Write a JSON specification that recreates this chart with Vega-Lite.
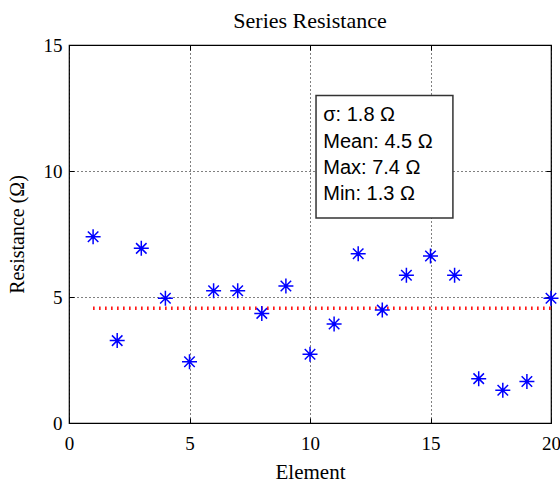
{
  "$schema": "https://vega.github.io/schema/vega-lite/v6.json",
  "autosize": {"type": "none"},
  "width": 482,
  "height": 378,
  "padding": {"left": 69, "top": 45, "right": 9, "bottom": 59},
  "background": "white",
  "title": {"text": "Series Resistance", "font": "Liberation Serif", "fontSize": 22, "fontWeight": "normal", "color": "black", "offset": 3},
  "config": {
    "view": {"stroke": "black", "strokeWidth": 1.2},
    "axis": {
      "domain": false,
      "tickColor": "black",
      "tickSize": -5,
      "labelFont": "Liberation Serif",
      "labelFontSize": 19,
      "labelColor": "black",
      "labelFlush": false,
      "labelOverlap": false,
      "titleFont": "Liberation Serif",
      "titleFontSize": 20,
      "titleFontWeight": "normal",
      "titleColor": "black",
      "gridColor": "black",
      "gridDash": [1, 3],
      "gridOpacity": 1,
      "gridWidth": 1
    }
  },
  "datasets": {
    "pts": [
      {"element": 1, "r": 7.39}, {"element": 2, "r": 3.27}, {"element": 3, "r": 6.93}, {"element": 4, "r": 4.95},
      {"element": 5, "r": 2.43}, {"element": 6, "r": 5.25}, {"element": 7, "r": 5.25}, {"element": 8, "r": 4.35},
      {"element": 9, "r": 5.44}, {"element": 10, "r": 2.73}, {"element": 11, "r": 3.93}, {"element": 12, "r": 6.72},
      {"element": 13, "r": 4.48}, {"element": 14, "r": 5.86}, {"element": 15, "r": 6.63}, {"element": 16, "r": 5.86},
      {"element": 17, "r": 1.76}, {"element": 18, "r": 1.3}, {"element": 19, "r": 1.65}, {"element": 20, "r": 4.95}
    ],
    "meanline": [{"start": 1, "end": 20, "mean": 4.55}],
    "box": [{"x1": 10.25, "x2": 15.93, "y1": 8.13, "y2": 13.0}],
    "stats": [
      {"label": "σ: 1.8 Ω", "x": 10.55, "y": 12.22},
      {"label": "Mean: 4.5 Ω", "x": 10.55, "y": 11.17},
      {"label": "Max: 7.4 Ω", "x": 10.55, "y": 10.12},
      {"label": "Min: 1.3 Ω", "x": 10.55, "y": 9.07}
    ]
  },
  "layer": [
    {
      "data": {"name": "meanline"},
      "mark": {"type": "rule", "color": "#ff0000", "strokeWidth": 3.5, "strokeDash": [1.5, 4.5]},
      "encoding": {
        "x": {"field": "start", "type": "quantitative", "axis": null},
        "x2": {"field": "end"},
        "y": {"field": "mean", "type": "quantitative", "axis": null}
      }
    },
    {
      "data": {"name": "pts"},
      "mark": {"type": "point", "shape": "M-1,0L1,0M0,-1L0,1M-0.7,-0.7L0.7,0.7M-0.7,0.7L0.7,-0.7", "filled": false, "stroke": "#0000ff", "strokeWidth": 1.5, "size": 225, "opacity": 1},
      "encoding": {
        "x": {"field": "element", "type": "quantitative", "scale": {"domain": [0, 20], "nice": false, "zero": false},
          "axis": {"orient": "bottom", "values": [0, 5, 10, 15, 20], "title": "Element", "titleFontSize": 21, "grid": true, "labelPadding": 16.5, "titlePadding": 8}},
        "y": {"field": "r", "type": "quantitative", "scale": {"domain": [0, 15], "nice": false, "zero": false},
          "axis": {"orient": "left", "values": [0, 5, 10, 15], "title": "Resistance (Ω)", "grid": true, "labelPadding": 12, "titlePadding": 16}}
      }
    },
    {
      "data": {"name": "box"},
      "mark": {"type": "rect", "fill": "white", "stroke": "#333333", "strokeWidth": 1.5},
      "encoding": {
        "x": {"field": "x1", "type": "quantitative", "axis": {"orient": "top", "values": [0, 5, 10, 15, 20], "labels": false, "grid": false, "title": null}},
        "x2": {"field": "x2"},
        "y": {"field": "y1", "type": "quantitative", "axis": {"orient": "right", "values": [0, 5, 10, 15], "labels": false, "grid": false, "title": null}},
        "y2": {"field": "y2"}
      }
    },
    {
      "data": {"name": "stats"},
      "mark": {"type": "text", "align": "left", "baseline": "middle", "font": "Liberation Sans", "fontSize": 20, "color": "black"},
      "encoding": {
        "x": {"field": "x", "type": "quantitative", "axis": null},
        "y": {"field": "y", "type": "quantitative", "axis": null},
        "text": {"field": "label"}
      }
    }
  ],
  "resolve": {"axis": {"x": "independent", "y": "independent"}}
}
